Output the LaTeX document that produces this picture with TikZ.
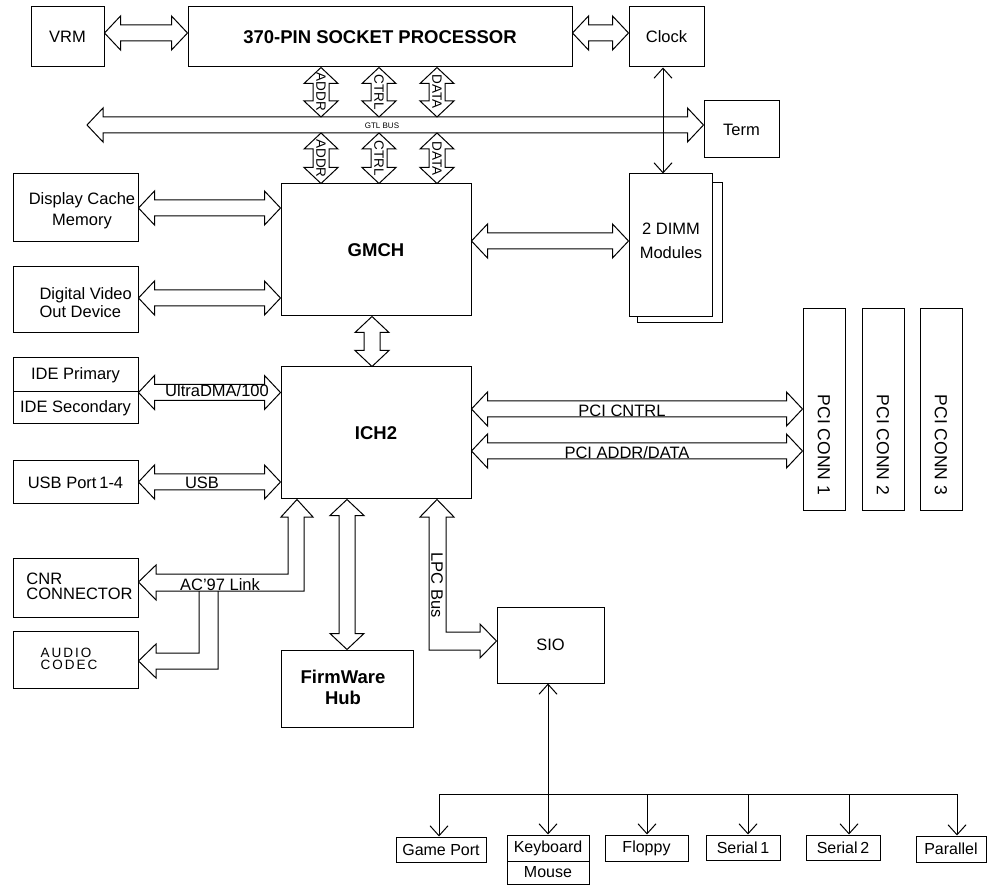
\documentclass[tikz,border=0pt]{standalone}
\usepackage{fontspec}
\setmainfont{Liberation Sans}
\newfontfamily\spacedfont[LetterSpace=15]{Liberation Sans}
\usetikzlibrary{arrows.meta,calc}
\def\HL{16pt}\def\HH{17pt}\def\HS{8pt}
\tikzset{
 hdbl/.style={line join=miter, to path={let \p1=(\tikztostart),\p2=(\tikztotarget) in
  -- (\x1+\HL,\y1+\HH) -- (\x1+\HL,\y1+\HS) -- (\x2-\HL,\y1+\HS) -- (\x2-\HL,\y1+\HH) -- (\x2,\y1)
  -- (\x2-\HL,\y1-\HH) -- (\x2-\HL,\y1-\HS) -- (\x1+\HL,\y1-\HS) -- (\x1+\HL,\y1-\HH) -- cycle}},
 vdbl/.style={line join=miter, to path={let \p1=(\tikztostart),\p2=(\tikztotarget) in
  -- (\x1+\HH,\y1-\HL) -- (\x1+\HS,\y1-\HL) -- (\x1+\HS,\y2+\HL) -- (\x1+\HH,\y2+\HL) -- (\x1,\y2)
  -- (\x1-\HH,\y2+\HL) -- (\x1-\HS,\y2+\HL) -- (\x1-\HS,\y1-\HL) -- (\x1-\HH,\y1-\HL) -- cycle}},
 box/.style={draw, inner sep=0pt, fill=white, align=center, font=\fontsize{16.5}{18}\selectfont},
 txt/.style={inner sep=0pt, align=center, font=\fontsize{16.5}{18}\selectfont},
 boldtxt/.style={font=\fontsize{18.5}{21}\selectfont\bfseries},
 rot/.style={inner sep=0pt, rotate=-90, font=\fontsize{13.5}{14}\selectfont},
 small/.style={draw, inner sep=0pt, fill=white, font=\fontsize{16}{18}\selectfont},
 barb/.style={>={Straight Barb[length=10pt,width=18pt]}},
}
\begin{document}
\begin{tikzpicture}[x=1pt,y=-1pt,line width=1pt]
\useasboundingbox (0,0) rectangle (989,885);
% ---- boxes
\node[box,minimum width=73pt,minimum height=60pt] (vrm) at (67.5,37) {VRM};
\node[box,boldtxt,minimum width=384pt,minimum height=60pt] (proc) at (380,37) {370-PIN SOCKET PROCESSOR};
\node[box,minimum width=75pt,minimum height=60pt] (clock) at (666.5,37) {Clock};
\node[box,minimum width=75pt,minimum height=57pt] (term) at (741.5,129.5) {Term};
\node[box,minimum width=85pt,minimum height=140pt] (dimmsh) at (679.5,253) {};
\node[box,minimum width=83pt,minimum height=143pt] (dimm) at (670.5,245.5) {};
\node[txt,font=\fontsize{16.5}{24}\selectfont] (dimmt) at (671,241) {2 DIMM\\Modules};
\node[box,boldtxt,minimum width=190pt,minimum height=132pt] (gmch) at (376,250) {GMCH};
\node[box,boldtxt,minimum width=190pt,minimum height=132pt] (ich2) at (376,433) {ICH2};
\node[box,minimum width=125pt,minimum height=68pt] (dcm) at (75.5,208) {};
\node[txt,font=\fontsize{16.5}{21}\selectfont] (dcmt) at (82,210.5) {Display Cache\\Memory};
\node[box,minimum width=125pt,minimum height=66pt] (dvo) at (75.5,300) {};
\node[txt,anchor=west,align=left,font=\fontsize{16.5}{18}\selectfont] (dvot) at (39,303) {Digital Video\\Out Device};
\node[box,minimum width=125pt,minimum height=34pt] (ide1) at (75.5,375) {IDE Primary};
\node[box,minimum width=125pt,minimum height=32pt] (ide2) at (75.5,408) {IDE Secondary};
\node[box,minimum width=125pt,minimum height=43pt] (usb) at (75.5,482.5) {USB Port\,1-4};
\node[box,minimum width=125pt,minimum height=59pt] (cnr) at (75.5,587.5) {};
\node[txt,anchor=west,align=left,font=\fontsize{16.5}{15}\selectfont] (cnrt) at (26,586) {CNR\\CONNECTOR};
\node[box,minimum width=125pt,minimum height=57pt] (audio) at (75.5,659.5) {};
\node[txt,anchor=west,align=left,font=\spacedfont\fontsize{13.5}{12}\selectfont] (audiot) at (40,659) {AUDIO\\CODEC};
\node[box,minimum width=132pt,minimum height=77pt] (fwh) at (347,688.5) {};
\node[txt,boldtxt] (fwht) at (343,687) {FirmWare\\Hub};
\node[box,minimum width=107pt,minimum height=76pt] (sio) at (550.5,645) {SIO};
\foreach \cx/\k in {824/1,883/2,941/3}{
  \node[box,minimum width=42pt,minimum height=201pt] (pci\k) at (\cx,409.5) {};
  \node[rot,font=\fontsize{17.5}{19}\selectfont] (pcit\k) at (\cx,445) {PCI CONN \k};
}
% bottom row
\node[small,minimum width=90pt,minimum height=25pt] (gp) at (441,849.5) {Game Port};
\node[small,minimum width=82pt,minimum height=26pt] (kb) at (548,848) {Keyboard};
\node[small,minimum width=82pt,minimum height=23pt] (mouse) at (548,872.5) {Mouse};
\node[small,minimum width=83pt,minimum height=26pt] (fl) at (646.5,848) {Floppy};
\node[small,minimum width=74pt,minimum height=25pt] (s1) at (743,847.5) {Serial\,1};
\node[small,minimum width=74pt,minimum height=25pt] (s2) at (843,847.5) {Serial\,2};
\node[small,minimum width=70pt,minimum height=26pt] (par) at (951,849) {Parallel};
% ---- connectors
\draw[hdbl] (vrm.east |- 0,33) to (proc.west);
\draw[hdbl] (proc.east |- 0,33) to (clock.west);
\coordinate (gtlL) at (87,125);
\coordinate (gtlT) at (0,117);
\coordinate (gtlB) at (0,133);
\draw[hdbl] (gtlL) to (term.west);
\node[inner sep=0pt,font=\fontsize{8}{9}\selectfont] (gtl) at (382,126) {GTL BUS};
\foreach \xx/\lab in {321/ADDR,379/CTRL,437/DATA}{
  \draw[vdbl] (proc.south -| \xx,0) to (gtlT -| \xx,0);
  \node[rot] (u\lab) at (\xx,92) {\lab};
  \draw[vdbl] (gtlB -| \xx,0) to (gmch.north -| \xx,0);
  \node[rot] (l\lab) at (\xx,158.5) {\lab};
}
\draw[<->,barb] (clock.south -| 663,0) -- (dimm.north -| 663,0);
\draw[hdbl] (dcm.east |- 0,208) to (gmch.west);
\draw[hdbl] (dvo.east |- 0,298) to (gmch.west);
\draw[hdbl] (gmch.east |- 0,241) to (dimm.west);
\draw[vdbl] (gmch.south -| 372,0) to (ich2.north -| 372,0);
\draw[hdbl] (ide1.south east) to (ich2.west);
\node[txt] (udma) at (217,391) {UltraDMA/100};
\draw[hdbl] (usb.east |- 0,482) to (ich2.west);
\node[txt] (usbl) at (202,483) {USB};
\draw[hdbl] (ich2.east |- 0,409) to (pci1.west);
\node[txt] (pcic) at (622,411) {PCI CNTRL};
\draw[hdbl] (ich2.east |- 0,451) to (pci1.west);
\node[txt] (pcia) at (627,453) {PCI ADDR/DATA};
\draw[vdbl] (ich2.south -| 347,0) to (fwh.north);
% AC'97 link
\draw[line join=miter] (288,574) -- (288,517) -- (281,517) -- (ich2.south -| 297,0) -- (313,517) -- (304,517)
  -- (304,591) -- (156,591) -- (156,600) -- (cnr.east |- 0,582) -- (156,565) -- (156,574) -- cycle;
\draw[line join=miter] (199,591) -- (199,653) -- (156,653) -- (156,644) -- (audio.east |- 0,661)
  -- (156,678) -- (156,669) -- (218,669) -- (218,591);
\node[txt] (ac97) at (220,585) {AC'97 Link};
% LPC bus
\draw[line join=miter] (429,650) -- (429,517) -- (420,517) -- (ich2.south -| 437,0) -- (454,517) -- (446,517)
  -- (446,632) -- (480,632) -- (480,624) -- (sio.west |- 0,641) -- (480,658) -- (480,650) -- cycle;
\node[txt,rotate=-90] (lpc) at (437,585) {LPC Bus};
% SIO bus
\coordinate (busL) at (439,794);
\coordinate (busR) at (957,794);
\draw (busL) -- (busR);
\draw[<->,barb] (548,0 |- sio.south) -- (548,0 |- kb.north);
\foreach \xx/\nn in {439/gp,647/fl,748/s1,849/s2,957/par}
  \draw[->,barb] (\xx,794) -- (\xx,0 |- \nn.north);
\end{tikzpicture}
\end{document}
